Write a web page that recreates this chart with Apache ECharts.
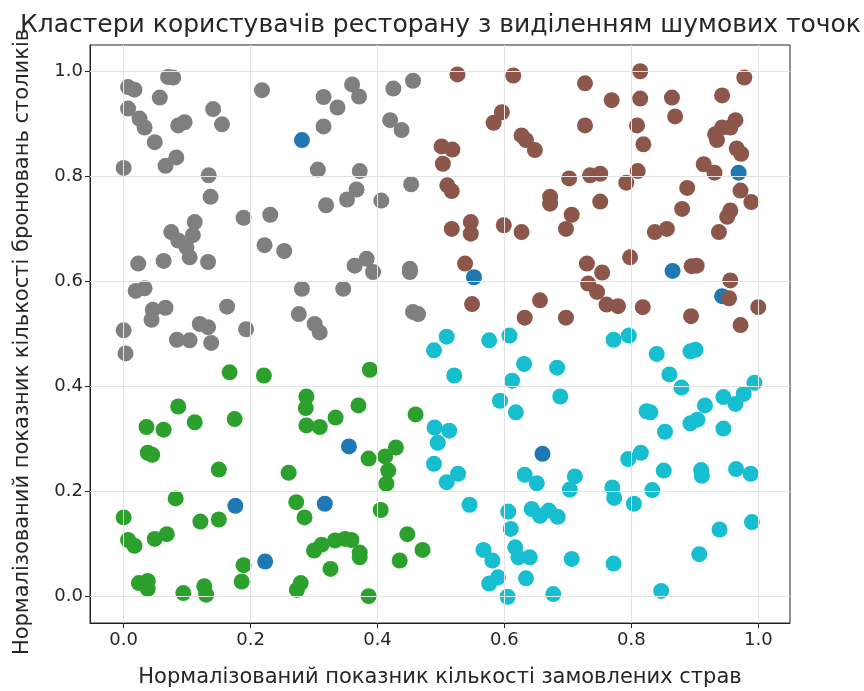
<!DOCTYPE html>
<html>
<head>
<meta charset="utf-8">
<script src="https://cdn.jsdelivr.net/npm/echarts@6/dist/echarts.min.js"></script>
<style>
  html, body { margin: 0; padding: 0; background: #fff; }
  #chart { width: 864px; height: 691px; }
</style>
</head>
<body>
<div id="chart"></div>
<script>
// Tick positions shared by both axes
const tickValues = [0.0, 0.2, 0.4, 0.6, 0.8, 1.0];

// Cluster: upper-left (grey)
const greyX = [0.007,0.017,0.070,0.078,0.057,0.007,0.025,0.033,0.049,0.086,0.096,0.141,0.155,0.218,0.315,0.315,0.306,0.319,0.000,0.066,0.083,0.134,0.137,0.189,0.231,0.222,0.075,0.086,0.099,0.112,0.109,0.104,0.133,0.023,0.063,0.253,0.019,0.033,0.046,0.066,0.044,0.163,0.000,0.003,0.084,0.104,0.120,0.133,0.138,0.193,0.281,0.276,0.301,0.309,0.360,0.371,0.337,0.425,0.456,0.420,0.438,0.372,0.367,0.352,0.406,0.453,0.364,0.383,0.393,0.451,0.451,0.346,0.456,0.464];
const greyY = [0.970,0.965,0.989,0.988,0.950,0.929,0.910,0.893,0.865,0.897,0.903,0.928,0.899,0.964,0.951,0.895,0.813,0.745,0.816,0.820,0.836,0.802,0.761,0.721,0.727,0.669,0.694,0.678,0.665,0.713,0.688,0.646,0.637,0.634,0.639,0.658,0.582,0.587,0.546,0.550,0.527,0.552,0.507,0.463,0.489,0.488,0.519,0.513,0.483,0.509,0.586,0.538,0.519,0.503,0.975,0.952,0.931,0.967,0.982,0.907,0.888,0.810,0.775,0.756,0.754,0.785,0.630,0.643,0.618,0.624,0.618,0.586,0.542,0.538];

// Cluster: upper-right (brown)
const brownX = [0.526,0.614,0.596,0.583,0.627,0.634,0.648,0.501,0.518,0.503,0.510,0.517,0.672,0.672,0.517,0.547,0.547,0.599,0.627,0.538,0.549,0.632,0.656,0.814,0.727,0.769,0.814,0.864,0.869,0.943,0.978,0.727,0.809,0.819,0.932,0.943,0.956,0.964,0.935,0.966,0.973,0.914,0.931,0.972,0.989,0.956,0.951,0.938,0.888,0.880,0.837,0.856,0.810,0.792,0.735,0.751,0.702,0.751,0.706,0.697,0.730,0.754,0.798,0.732,0.746,0.761,0.779,0.818,0.697,0.895,0.903,0.956,0.954,1.000,0.894,0.972];
const brownY = [0.994,0.992,0.922,0.902,0.878,0.869,0.850,0.857,0.851,0.824,0.783,0.772,0.761,0.748,0.700,0.713,0.691,0.707,0.694,0.634,0.557,0.531,0.564,1.000,0.977,0.945,0.948,0.950,0.914,0.954,0.988,0.897,0.897,0.861,0.880,0.893,0.893,0.907,0.869,0.853,0.843,0.823,0.807,0.773,0.751,0.735,0.723,0.694,0.778,0.738,0.694,0.700,0.810,0.788,0.802,0.805,0.796,0.752,0.727,0.700,0.634,0.617,0.646,0.596,0.580,0.556,0.553,0.551,0.531,0.629,0.630,0.602,0.568,0.551,0.534,0.517];

// Cluster: lower-left (green)
const greenX = [0.167,0.221,0.086,0.112,0.175,0.036,0.063,0.288,0.287,0.288,0.309,0.388,0.370,0.334,0.460,0.038,0.045,0.150,0.260,0.082,0.272,0.285,0.000,0.007,0.017,0.049,0.068,0.121,0.150,0.300,0.312,0.326,0.189,0.186,0.024,0.038,0.038,0.094,0.127,0.130,0.279,0.273,0.386,0.412,0.429,0.417,0.414,0.405,0.447,0.471,0.435,0.333,0.349,0.359,0.372,0.372,0.386];
const greenY = [0.427,0.421,0.362,0.332,0.338,0.323,0.318,0.381,0.359,0.326,0.323,0.432,0.364,0.341,0.347,0.274,0.270,0.242,0.236,0.187,0.180,0.151,0.151,0.108,0.097,0.110,0.119,0.143,0.147,0.088,0.099,0.053,0.060,0.029,0.026,0.030,0.015,0.007,0.020,0.004,0.026,0.013,0.263,0.267,0.284,0.240,0.215,0.165,0.119,0.089,0.069,0.107,0.110,0.108,0.084,0.075,0.001];

// Cluster: lower-right (cyan)
const cyanX = [0.509,0.489,0.576,0.608,0.521,0.631,0.612,0.593,0.618,0.683,0.688,0.772,0.796,0.840,0.893,0.901,0.860,0.879,0.824,0.830,0.916,0.945,0.964,0.977,0.994,0.893,0.904,0.853,0.945,0.795,0.815,0.851,0.910,0.911,0.965,0.988,0.711,0.703,0.770,0.773,0.804,0.833,0.990,0.939,0.907,0.706,0.772,0.677,0.847,0.490,0.513,0.495,0.489,0.509,0.527,0.545,0.632,0.651,0.606,0.610,0.643,0.656,0.670,0.684,0.617,0.622,0.640,0.567,0.581,0.590,0.576,0.634,0.605];
const cyanY = [0.495,0.469,0.488,0.497,0.421,0.443,0.411,0.373,0.351,0.436,0.381,0.489,0.497,0.462,0.467,0.470,0.423,0.398,0.353,0.351,0.364,0.380,0.367,0.386,0.407,0.330,0.337,0.314,0.320,0.262,0.274,0.240,0.241,0.230,0.243,0.234,0.229,0.204,0.208,0.188,0.177,0.203,0.142,0.128,0.081,0.072,0.063,0.005,0.011,0.322,0.316,0.293,0.253,0.218,0.234,0.175,0.232,0.216,0.162,0.129,0.167,0.154,0.164,0.152,0.094,0.075,0.075,0.089,0.069,0.037,0.025,0.035,0.000];

// Noise points (blue)
const noiseX = [0.281,0.552,0.865,0.943,0.969,0.660,0.355,0.317,0.176,0.223];
const noiseY = [0.869,0.608,0.620,0.572,0.807,0.272,0.286,0.177,0.173,0.067];

const zip = (xs, ys) => xs.map((x, i) => [x, ys[i]]);

const FONT = 'DejaVu Sans';
const TEXT = '#262626';

const groups = [
  { name: 'noise', xs: noiseX, ys: noiseY, color: '#1f77b4' },
  { name: 'green', xs: greenX, ys: greenY, color: '#2ca02c' },
  { name: 'brown', xs: brownX, ys: brownY, color: '#8c564b' },
  { name: 'grey',  xs: greyX,  ys: greyY,  color: '#7f7f7f' },
  { name: 'cyan',  xs: cyanX,  ys: cyanY,  color: '#17becf' }
];

const pointSeries = groups.map(g => ({
  name: g.name,
  type: 'scatter',
  data: zip(g.xs, g.ys),
  symbol: 'circle',
  symbolSize: 16,
  itemStyle: { color: g.color, opacity: 1 },
  z: 3,
  silent: true
}));

// Light grid lines at every tick, drawn under the points
const gridSeries = {
  type: 'scatter',
  data: [],
  z: 1,
  silent: true,
  markLine: {
    silent: true,
    symbol: 'none',
    animation: false,
    label: { show: false },
    lineStyle: { color: '#e4e4e4', width: 1, type: 'solid' },
    data: tickValues.map(v => ({ xAxis: v })).concat(tickValues.map(v => ({ yAxis: v })))
  }
};

const axisCommon = {
  type: 'value',
  splitLine: { show: false },
  axisLine: { show: true, onZero: false, lineStyle: { color: '#222', width: 1 } },
  axisTick: { show: true, length: 5, inside: false, customValues: tickValues, lineStyle: { color: '#222' } },
  axisLabel: {
    customValues: tickValues,
    formatter: v => v.toFixed(1),
    color: TEXT,
    fontFamily: FONT,
    fontSize: 18
  },
  nameLocation: 'middle',
  nameTextStyle: { color: TEXT, fontFamily: FONT, fontSize: 21 }
};

const chart = echarts.init(document.getElementById('chart'), null, { renderer: 'canvas' });
chart.setOption({
  animation: false,
  backgroundColor: '#ffffff',
  title: {
    text: 'Кластери користувачів ресторану з виділенням шумових точок',
    left: 15,
    top: 8,
    textStyle: { color: TEXT, fontFamily: FONT, fontSize: 25, fontWeight: 'normal' }
  },
  grid: {
    left: 90, right: 74, top: 45, bottom: 68,
    outerBoundsMode: 'none',
    containLabel: false,
    show: true, borderColor: '#222', borderWidth: 1, backgroundColor: 'transparent'
  },
  xAxis: Object.assign({}, axisCommon, {
    min: -0.053, max: 1.05,
    name: 'Нормалізований показник кількості замовлених страв',
    nameGap: 44,
    axisLabel: Object.assign({}, axisCommon.axisLabel, { margin: 8 })
  }),
  yAxis: Object.assign({}, axisCommon, {
    min: -0.05, max: 1.05,
    name: 'Нормалізований показник кількості бронювань столиків',
    nameGap: 57,
    nameTextStyle: Object.assign({}, axisCommon.nameTextStyle, { padding: [0, 16, 0, 0] }),
    axisLabel: Object.assign({}, axisCommon.axisLabel, { margin: 7 })
  }),
  series: [gridSeries].concat(pointSeries)
});
</script>
</body>
</html>
